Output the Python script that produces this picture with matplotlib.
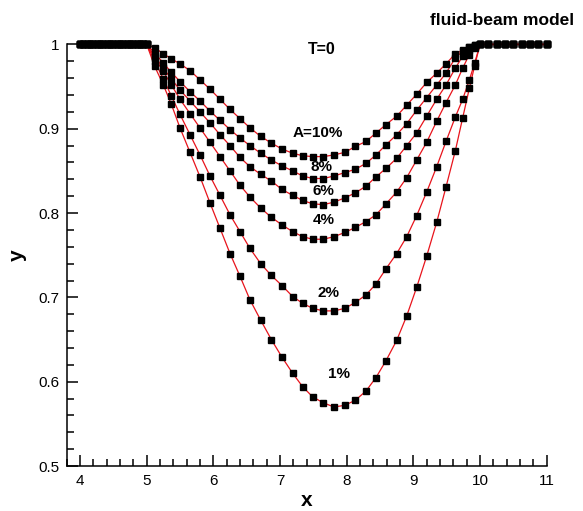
import matplotlib.pyplot as plt
from matplotlib.ticker import MultipleLocator

plt.rcParams['font.family'] = ['Liberation Sans', 'DejaVu Sans']

# flat parts (y = 1) shared by all curves
x_left = [4.0, 4.05, 4.1, 4.15, 4.2, 4.25, 4.3, 4.35, 4.4, 4.45, 4.5,
          4.55, 4.6, 4.65, 4.7, 4.75, 4.8, 4.85, 4.9, 4.95]
x_right = [10.125, 10.25, 10.375, 10.5, 10.625, 10.75, 10.875, 11.0]

# dip region
x_dip = [5.0, 5.12, 5.25, 5.37, 5.5, 5.65, 5.8, 5.95, 6.1, 6.25, 6.4, 6.55,
         6.71, 6.87, 7.03, 7.19, 7.34, 7.49, 7.65, 7.81, 7.97, 8.13, 8.29, 8.44,
         8.59, 8.75, 8.9, 9.05, 9.2, 9.35, 9.49, 9.63, 9.74, 9.84, 9.92, 10.0]

y_10 = [1.0, 0.996, 0.989, 0.983, 0.977, 0.969, 0.958, 0.947, 0.935, 0.923,
        0.912, 0.901, 0.891, 0.883, 0.876, 0.871, 0.868, 0.867, 0.867, 0.869,
        0.872, 0.879, 0.885, 0.895, 0.905, 0.915, 0.928, 0.941, 0.955, 0.966,
        0.977, 0.989, 0.993, 0.997, 0.999, 1.0]
y_8 = [1.0, 0.990, 0.978, 0.967, 0.956, 0.944, 0.933, 0.921, 0.910, 0.899,
       0.889, 0.880, 0.871, 0.863, 0.856, 0.850, 0.844, 0.841, 0.841, 0.844,
       0.848, 0.852, 0.859, 0.869, 0.881, 0.893, 0.906, 0.922, 0.937, 0.952,
       0.966, 0.984, 0.992, 0.997, 0.999, 1.0]
y_6 = [1.0, 0.986, 0.972, 0.959, 0.946, 0.933, 0.920, 0.907, 0.893, 0.880,
       0.866, 0.855, 0.846, 0.838, 0.828, 0.821, 0.815, 0.811, 0.810, 0.813,
       0.818, 0.824, 0.832, 0.843, 0.853, 0.865, 0.880, 0.895, 0.915, 0.935,
       0.952, 0.972, 0.986, 0.994, 0.998, 1.0]
y_4 = [1.0, 0.984, 0.968, 0.952, 0.935, 0.918, 0.901, 0.884, 0.867, 0.850,
       0.833, 0.819, 0.806, 0.795, 0.786, 0.778, 0.772, 0.769, 0.769, 0.772,
       0.777, 0.783, 0.790, 0.798, 0.811, 0.825, 0.842, 0.863, 0.884, 0.909,
       0.931, 0.952, 0.972, 0.988, 0.996, 1.0]
y_2 = [1.0, 0.980, 0.959, 0.939, 0.917, 0.893, 0.869, 0.844, 0.821, 0.798,
       0.778, 0.758, 0.740, 0.726, 0.714, 0.701, 0.693, 0.687, 0.684, 0.684,
       0.687, 0.694, 0.703, 0.716, 0.734, 0.752, 0.772, 0.797, 0.825, 0.855,
       0.885, 0.914, 0.935, 0.958, 0.978, 1.0]
y_1 = [1.0, 0.974, 0.952, 0.929, 0.901, 0.872, 0.843, 0.812, 0.782, 0.752,
       0.725, 0.697, 0.673, 0.650, 0.629, 0.610, 0.594, 0.582, 0.575, 0.570,
       0.572, 0.578, 0.589, 0.605, 0.625, 0.649, 0.678, 0.712, 0.749, 0.789,
       0.831, 0.874, 0.913, 0.948, 0.975, 1.0]

curves = [y_10, y_8, y_6, y_4, y_2, y_1]
labels = ['A=10%', '8%', '6%', '4%', '2%', '1%']
label_x = [7.56, 7.62, 7.65, 7.66, 7.73, 7.88]
label_y = [0.895, 0.855, 0.826, 0.792, 0.705, 0.609]

fig = plt.figure(figsize=(5.83, 5.11), dpi=100)
ax = fig.add_axes([0.1144, 0.088, 0.8233, 0.825])

for ys in curves:
    xs = x_left + x_dip + x_right
    yy = [1.0] * len(x_left) + ys + [1.0] * len(x_right)
    ax.plot(xs, yy, color='#e8141c', linewidth=0.9, clip_on=False, zorder=2)
    ax.plot(xs, yy, linestyle='none', marker='s', markersize=4.3,
            color='black', clip_on=False, zorder=3)

for lab, lx, ly in zip(labels, label_x, label_y):
    ax.text(lx, ly, lab, fontsize=11, fontweight='bold', ha='center', va='center')

ax.text(7.62, 0.994, 'T=0', fontsize=11.5, fontweight='bold', ha='center', va='center')
fig.text(0.8605, 0.951, 'fluid-beam model', fontsize=12.5, fontweight='bold',
         ha='center', va='baseline')

ax.set_xlim(3.8, 11)
ax.set_ylim(0.5, 1.0)
ax.xaxis.set_major_locator(MultipleLocator(1))
ax.xaxis.set_minor_locator(MultipleLocator(0.2))
ax.yaxis.set_minor_locator(MultipleLocator(0.02))
ax.set_yticks([0.5, 0.6, 0.7, 0.8, 0.9, 1.0])
ax.set_yticklabels(['0.5', '0.6', '0.7', '0.8', '0.9', '1'])

ax.spines['top'].set_visible(False)
ax.spines['right'].set_visible(False)
for s in ['left', 'bottom']:
    ax.spines[s].set_linewidth(1.1)
ax.tick_params(which='both', direction='in', width=1.1, labelsize=11)
ax.tick_params(which='major', length=7.7)
ax.tick_params(which='minor', length=4.8)
ax.tick_params(axis='y', pad=5.5)
ax.tick_params(axis='x', pad=6)

ax.set_xlabel('x', fontsize=15, fontweight='bold', labelpad=2)
ax.set_ylabel('y', fontsize=15, fontweight='bold', labelpad=8)

fig.savefig('out.png', dpi=100)
